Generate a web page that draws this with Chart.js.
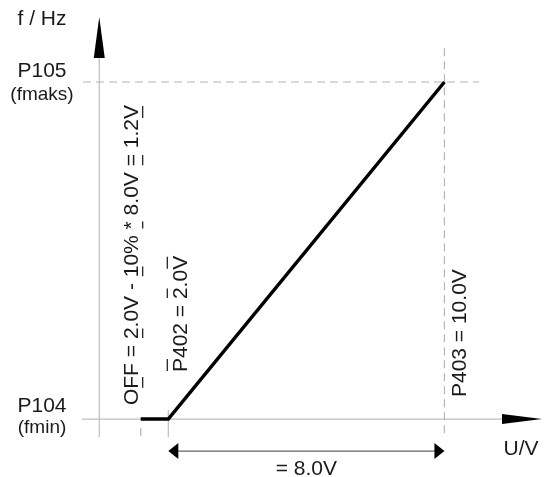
<!DOCTYPE html>
<html>
<head>
<meta charset="utf-8">
<script src="https://cdn.jsdelivr.net/npm/chart.js"></script>
<style>
  body { margin: 0; background: #fff; }
  #chart { display: block; }
</style>
</head>
<body>
<canvas id="chart" width="551" height="477"></canvas>
<script>
// control input (V) and output frequency (normalised: 0 = P104 fmin, 1 = P105 fmax)
var voltValues = [1.2, 2.0, 10.0];
var freqValues = [0, 0, 1];

var yTickLabels = [['P104', '(fmin)'], ['P105', '(fmaks)']];
var xAxisTitle = 'U/V';
var yAxisTitle = 'f / Hz';
var offText = 'OFF = 2.0V - 10% * 8.0V = 1.2V';
var offMarks = [1, 6, 13, 17, 24, 29];
var minText = 'P402 = 2.0V';
var minMarks = [0, 7, 10];
var maxText = 'P403 = 10.0V';
var spanText = '= 8.0V';

var FONT = '"Liberation Sans", Arial, sans-serif';

var points = voltValues.map(function (v, i) { return { x: v, y: freqValues[i] }; });

function tri(ctx, a, b, c) {
    ctx.beginPath();
    ctx.moveTo(a[0], a[1]);
    ctx.lineTo(b[0], b[1]);
    ctx.lineTo(c[0], c[1]);
    ctx.closePath();
    ctx.fill();
}

function line(ctx, x1, y1, x2, y2) {
    ctx.beginPath();
    ctx.moveTo(x1, y1);
    ctx.lineTo(x2, y2);
    ctx.stroke();
}

// vertical text reading bottom to top, with little bars beside some characters
function upText(ctx, text, bx, startY, marks, side) {
    ctx.save();
    ctx.translate(bx, startY);
    ctx.rotate(-Math.PI / 2);
    ctx.textAlign = 'left';
    ctx.textBaseline = 'alphabetic';
    ctx.fillText(text, 0, 0);
    if (marks) {
        ctx.lineWidth = 1.3;
        ctx.strokeStyle = '#222';
        marks.forEach(function (i) {
            var s = ctx.measureText(text.slice(0, i)).width;
            var w = ctx.measureText(text.charAt(i)).width;
            var yy = side === 'under' ? 5 : -20;
            line(ctx, s + 1, yy, s + Math.max(w, 9) - 1, yy);
        });
    }
    ctx.restore();
}

var sketchPlugin = {
    id: 'sketch',
    beforeDatasetsDraw: function (chart) {
        var ctx = chart.ctx;
        var xs = chart.scales.x, ys = chart.scales.y;
        var x0 = xs.getPixelForValue(0), y0 = ys.getPixelForValue(0);
        var yMax = ys.getPixelForValue(1);
        var xMin = xs.getPixelForValue(voltValues[1]);
        var xMax = xs.getPixelForValue(voltValues[2]);
        var xOff = xs.getPixelForValue(voltValues[0]);
        ctx.save();

        // dashed guide lines at fmax and 10 V
        ctx.strokeStyle = '#b4b4b4';
        ctx.lineWidth = 1.2;
        ctx.setLineDash([8, 5]);
        line(ctx, xs.getPixelForValue(-0.47), yMax, xs.getPixelForValue(11.0), yMax);
        line(ctx, xMax, ys.getPixelForValue(1.1), xMax, ys.getPixelForValue(-0.047));
        line(ctx, xOff, y0 + 9, xOff, y0 + 18);
        ctx.setLineDash([]);

        // axes
        ctx.strokeStyle = '#bdbdbd';
        ctx.lineWidth = 1.2;
        line(ctx, x0, y0 + 18, x0, 57);
        line(ctx, xs.getPixelForValue(-0.5), y0, 503, y0);
        line(ctx, xMin, y0 - 9, xMin, y0 + 18);

        ctx.fillStyle = '#000';
        tri(ctx, [x0 - 5.5, 58], [x0 + 5.5, 58], [x0, 17]);
        tri(ctx, [502, y0 - 5], [502, y0 + 5], [542, y0]);

        // dimension line 2 V .. 10 V
        var yd = y0 + 32;
        ctx.strokeStyle = '#666';
        ctx.lineWidth = 1.3;
        line(ctx, xMin + 8, yd, xMax - 8, yd);
        tri(ctx, [xMin, yd], [xMin + 10, yd - 8], [xMin + 10, yd + 8]);
        tri(ctx, [xMax, yd], [xMax - 10, yd - 8], [xMax - 10, yd + 8]);
        ctx.restore();
    },
    afterDatasetsDraw: function (chart) {
        var ctx = chart.ctx;
        var xs = chart.scales.x, ys = chart.scales.y;
        var y0 = ys.getPixelForValue(0), yMax = ys.getPixelForValue(1);
        var xOff = xs.getPixelForValue(voltValues[0]);
        var xMin = xs.getPixelForValue(voltValues[1]);
        var xMax = xs.getPixelForValue(voltValues[2]);
        ctx.save();
        ctx.fillStyle = '#1a1a1a';
        ctx.textAlign = 'center';
        ctx.textBaseline = 'alphabetic';

        ctx.font = '21px ' + FONT;
        ctx.fillText(yAxisTitle, 42, 25);
        ctx.fillText(yTickLabels[1][0], 42, yMax - 5);
        ctx.fillText(yTickLabels[0][0], 42, y0 - 7);
        ctx.fillText(xAxisTitle, 521, y0 + 36);
        ctx.fillText(spanText, (xMin + xMax) / 2, y0 + 56);

        ctx.font = '19px ' + FONT;
        ctx.fillText(yTickLabels[1][1], 42, yMax + 18);
        ctx.fillText(yTickLabels[0][1], 42, y0 + 14);

        ctx.font = '21px ' + FONT;
        upText(ctx, offText, xOff - 3, y0 - 14, offMarks, 'under');
        upText(ctx, minText, xMin + 19, y0 - 47, minMarks, 'over');
        upText(ctx, maxText, xMax + 22, y0 - 22, null);
        ctx.restore();
    }
};

new Chart(document.getElementById('chart').getContext('2d'), {
    type: 'scatter',
    data: {
        datasets: [{
            data: points,
            showLine: true,
            borderColor: '#000',
            borderWidth: 3.5,
            pointRadius: 0,
            tension: 0,
            clip: false
        }]
    },
    options: {
        responsive: false,
        animation: false,
        layout: { padding: { left: 82, right: 3, top: 14.6, bottom: 7.4 } },
        scales: {
            x: { type: 'linear', min: -0.5, max: 13, display: false },
            y: { type: 'linear', min: -0.15, max: 1.2, display: false }
        },
        plugins: { legend: { display: false }, tooltip: { enabled: false } }
    },
    plugins: [sketchPlugin]
});
</script>
</body>
</html>
